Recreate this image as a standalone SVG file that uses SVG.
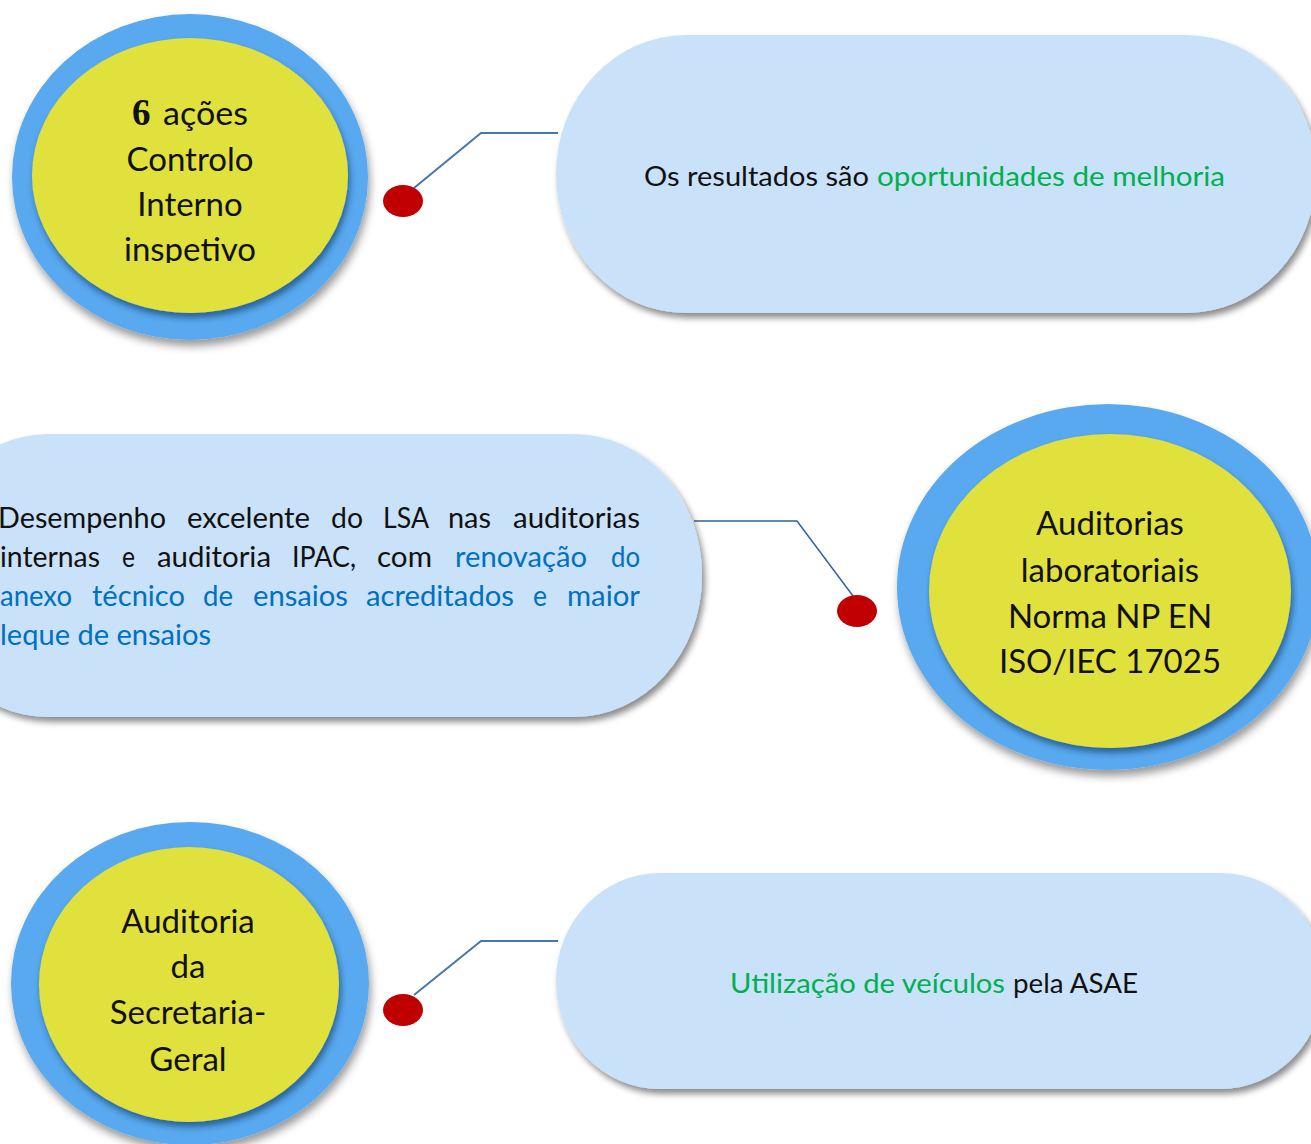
<svg xmlns="http://www.w3.org/2000/svg" width="1311" height="1144" viewBox="0 0 1311 1144">
  <defs>
    <style>
      .ring { fill: #59a9ef; }
      .core { fill: #e1e13d; }
      .pill { fill: #c9e2f9; }
      .dot { fill: #c00000; }
      .lbl { font-family: Lato, "Open Sans", sans-serif; font-size: 33px; fill: #111; text-anchor: middle; }
      .ptxt { font-family: Lato, "Open Sans", sans-serif; font-size: 27px; fill: #111; }
      .mtxt { font-family: Lato, "Open Sans", sans-serif; font-size: 28px; fill: #111; }
      .grn { fill: #00b050; }
      .blu { fill: #0070c0; }
      .conn { fill: none; stroke: #4677a8; stroke-width: 2; }
      .conn2 { fill: none; stroke: #2f62a3; stroke-width: 1.5; }
    </style>
    <filter id="shPill" x="-10%" y="-10%" width="125%" height="130%">
      <feGaussianBlur in="SourceAlpha" stdDeviation="3"/>
      <feOffset dx="3" dy="5" result="b"/>
      <feFlood flood-color="#000" flood-opacity="0.45"/>
      <feComposite in2="b" operator="in"/>
      <feMerge><feMergeNode/><feMergeNode in="SourceGraphic"/></feMerge>
    </filter>
    <filter id="shRing" x="-10%" y="-10%" width="125%" height="130%">
      <feGaussianBlur in="SourceAlpha" stdDeviation="4"/>
      <feOffset dx="2" dy="6" result="b"/>
      <feFlood flood-color="#000" flood-opacity="0.4"/>
      <feComposite in2="b" operator="in"/>
      <feMerge><feMergeNode/><feMergeNode in="SourceGraphic"/></feMerge>
    </filter>
    <filter id="shCore" x="-10%" y="-10%" width="125%" height="130%">
      <feGaussianBlur in="SourceAlpha" stdDeviation="3"/>
      <feOffset dx="2" dy="5" result="b"/>
      <feFlood flood-color="#0a2a50" flood-opacity="0.55"/>
      <feComposite in2="b" operator="in"/>
      <feMerge><feMergeNode/><feMergeNode in="SourceGraphic"/></feMerge>
    </filter>
    <clipPath id="clipTop"><rect x="0" y="0" width="400" height="263"/></clipPath>
  </defs>

  <rect width="1311" height="1144" fill="#ffffff"/>

  <g id="connectors">
    <polyline class="conn" points="414,188 481,133 558,133"/>
    <polyline class="conn2" points="694,521 797,521 853,596"/>
    <polyline class="conn" points="414,995 481,941 558,941"/>
    <ellipse class="dot" cx="403" cy="201" rx="20" ry="16"/>
    <ellipse class="dot" cx="857" cy="611" rx="20" ry="16"/>
    <ellipse class="dot" cx="403" cy="1010" rx="20" ry="16"/>
  </g>

  <g id="node-controlo">
    <ellipse class="ring" cx="190" cy="177" rx="178" ry="163" filter="url(#shRing)"/>
    <ellipse class="core" cx="190" cy="175.5" rx="158" ry="137.5" filter="url(#shCore)"/>
    <g clip-path="url(#clipTop)">
      <text x="132" y="125" style="font-family:'Liberation Serif',serif;font-weight:bold;font-size:37px;fill:#111">6</text>
      <text x="163" y="125" class="lbl" style="text-anchor:start" textLength="85" lengthAdjust="spacingAndGlyphs">ações</text>
      <text x="190" y="171" class="lbl">Controlo</text>
      <text x="190" y="216" class="lbl">Interno</text>
      <text x="190" y="261" class="lbl">inspetivo</text>
    </g>
  </g>

  <g id="node-resultados">
    <rect class="pill" x="556" y="35" width="760" height="278" rx="130" ry="139" filter="url(#shPill)"/>
    <text class="ptxt" x="644" y="186" textLength="225" lengthAdjust="spacingAndGlyphs">Os resultados são</text>
    <text class="ptxt grn" x="877" y="186" textLength="348" lengthAdjust="spacingAndGlyphs">oportunidades de melhoria</text>
  </g>

  <g id="node-desempenho">
    <rect class="pill" x="-80" y="434" width="782" height="283" rx="128" ry="141" filter="url(#shPill)"/>
    <text class="mtxt" x="-2" y="528" textLength="168" lengthAdjust="spacingAndGlyphs">Desempenho</text>
    <text class="mtxt" x="187" y="528" textLength="123" lengthAdjust="spacingAndGlyphs">excelente</text>
    <text class="mtxt" x="331" y="528" textLength="32" lengthAdjust="spacingAndGlyphs">do</text>
    <text class="mtxt" x="383" y="528" textLength="46" lengthAdjust="spacingAndGlyphs">LSA</text>
    <text class="mtxt" x="448" y="528" textLength="43" lengthAdjust="spacingAndGlyphs">nas</text>
    <text class="mtxt" x="513" y="528" textLength="127" lengthAdjust="spacingAndGlyphs">auditorias</text>

    <text class="mtxt" x="0" y="567" textLength="100" lengthAdjust="spacingAndGlyphs">internas</text>
    <text class="mtxt" x="122" y="567" textLength="13" lengthAdjust="spacingAndGlyphs">e</text>
    <text class="mtxt" x="157" y="567" textLength="114" lengthAdjust="spacingAndGlyphs">auditoria</text>
    <text class="mtxt" x="292" y="567" textLength="64" lengthAdjust="spacingAndGlyphs">IPAC,</text>
    <text class="mtxt" x="377" y="567" textLength="55" lengthAdjust="spacingAndGlyphs">com</text>
    <text class="mtxt blu" x="455" y="567" textLength="132" lengthAdjust="spacingAndGlyphs">renovação</text>
    <text class="mtxt blu" x="611" y="567" textLength="29" lengthAdjust="spacingAndGlyphs">do</text>

    <text class="mtxt blu" x="0" y="606" textLength="72" lengthAdjust="spacingAndGlyphs">anexo</text>
    <text class="mtxt blu" x="92" y="606" textLength="93" lengthAdjust="spacingAndGlyphs">técnico</text>
    <text class="mtxt blu" x="203" y="606" textLength="30" lengthAdjust="spacingAndGlyphs">de</text>
    <text class="mtxt blu" x="253" y="606" textLength="95" lengthAdjust="spacingAndGlyphs">ensaios</text>
    <text class="mtxt blu" x="366" y="606" textLength="148" lengthAdjust="spacingAndGlyphs">acreditados</text>
    <text class="mtxt blu" x="533" y="606" textLength="14" lengthAdjust="spacingAndGlyphs">e</text>
    <text class="mtxt blu" x="567" y="606" textLength="73" lengthAdjust="spacingAndGlyphs">maior</text>

    <text class="mtxt blu" x="0" y="645" textLength="211" lengthAdjust="spacingAndGlyphs">leque de ensaios</text>
  </g>

  <g id="node-auditorias">
    <ellipse class="ring" cx="1108" cy="587" rx="211" ry="183" filter="url(#shRing)"/>
    <ellipse class="core" cx="1110" cy="591" rx="181" ry="157" filter="url(#shCore)"/>
    <text x="1110" y="535" class="lbl">Auditorias</text>
    <text x="1110" y="582" class="lbl">laboratoriais</text>
    <text x="1110" y="628" class="lbl">Norma NP EN</text>
    <text x="1110" y="673" class="lbl">ISO/IEC 17025</text>
  </g>

  <g id="node-secretaria">
    <ellipse class="ring" cx="190" cy="983.5" rx="179" ry="161.5" filter="url(#shRing)"/>
    <ellipse class="core" cx="189" cy="984.5" rx="150" ry="137.5" filter="url(#shCore)"/>
    <text x="188" y="933" class="lbl">Auditoria</text>
    <text x="188" y="978" class="lbl">da</text>
    <text x="188" y="1024" class="lbl">Secretaria-</text>
    <text x="188" y="1071" class="lbl">Geral</text>
  </g>

  <g id="node-veiculos">
    <rect class="pill" x="556" y="873" width="768" height="216" rx="104" ry="108" filter="url(#shPill)"/>
    <text class="ptxt grn" x="730" y="993" textLength="275" lengthAdjust="spacingAndGlyphs">Utilização de veículos</text>
    <text class="ptxt" x="1013" y="993" textLength="125" lengthAdjust="spacingAndGlyphs">pela ASAE</text>
  </g>
</svg>
